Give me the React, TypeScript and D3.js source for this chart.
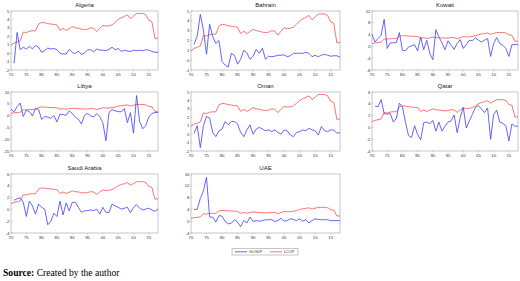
import React from 'react';
import * as d3 from 'd3';

// years 1970..2018
const years = d3.range(1970, 2019);

// red series (same in every panel)
const cop = [0.95, 1.2, 1.3, 1.45, 2.5, 2.45, 2.6, 2.65, 2.65, 3.45, 3.65, 3.6, 3.5, 3.45, 3.4, 3.35, 2.7, 2.95, 2.7, 2.9,
  3.15, 3.0, 2.95, 2.85, 2.8, 2.85, 3.0, 2.95, 2.55, 2.95, 3.3, 3.2, 3.25, 3.35, 3.65, 4.0, 4.2, 4.35, 4.55, 4.1,
  4.4, 4.7, 4.7, 4.7, 4.55, 3.9, 3.75, 1.75, 1.8];

const algeria = [null, -1.2, 2.45, 0.4, 0.7, 0.5, 0.8, 0.5, 0.9, 0.7, 0.1, 0.3, 0.6, 0.5, 0.55, 0.4, 0.0, -0.1, -0.1, 0.45,
  0.1, -0.05, 0.25, -0.15, 0.0, 0.4, 0.4, 0.15, 0.5, 0.35, 0.35, 0.3, 0.45, 0.7, 0.4, 0.55, 0.2, 0.35, 0.25, 0.2,
  0.35, 0.3, 0.35, 0.3, 0.4, 0.35, 0.2, 0.1, 0.1];
const bahrain = [null, 1.6, 2.45, 4.65, 3.05, 0.6, 3.65, 2.4, 1.7, 2.0, -0.15, -0.5, -0.7, 0.7, 0.5, -0.4, 0.1, 1.0, 0.75, 0.1,
  0.4, 1.1, 0.7, 1.2, 0.1, 0.4, 0.35, 0.4, 0.5, 0.5, 0.55, 0.35, 0.45, 0.7, 0.7, 0.7, 0.7, 0.8, 0.7, 0.35,
  0.5, 0.35, 0.5, 0.6, 0.5, 0.4, 0.45, 0.45, 0.3];
const kuwait = [4.0, 1.5, 2.7, 3.8, 9.2, -0.7, 1.2, 1.2, 1.3, 4.7, -1.3, -1.5, -0.2, 0.2, 0.6, -1.5, 3.2, -1.1, 2.1, -2.4,
  -4.5, 5.7, 3.2, 1.2, -1.1, 1.9, 0.4, -1.0, 1.0, 2.3, -0.7, 0.6, 2.1, 1.9, 2.9, 2.1, 1.5, 2.1, 2.7, -3.4,
  1.0, 3.0, 1.0, 0.4, -0.7, -3.4, 0.6, 0.6, 0.6];
const libya = [2.7, 1.6, 3.8, 5.3, -0.4, 2.3, 1.7, -0.1, 3.0, 2.7, -1.6, -0.4, -0.6, -1.2, 0.1, -2.7, 0.6, 0.4, 0.1, 2.0,
  0.9, -0.6, -1.6, -3.5, 0.1, 0.9, -0.1, -0.6, 0.9, -0.5, -3.0, -10.7, 1.3, 2.5, 2.0, 1.7, 1.6, 3.0, -3.0, 1.3,
  -7.4, 8.5, -2.5, -5.6, -4.2, -0.6, 0.9, 1.3, 1.3];
const oman = [null, 0.1, 1.0, -1.6, 1.0, 2.1, 1.9, 0.2, -0.3, 0.4, 0.6, 1.5, 1.1, 1.5, 1.5, 1.2, 0.2, -0.3, 0.5, 1.1,
  0.0, 0.6, 0.8, 0.6, 0.4, 0.5, 0.3, 0.5, 0.2, 0.0, 0.5, 0.4, -0.1, -0.3, 0.2, 0.3, 0.5, 0.4, 0.7, 0.5,
  0.4, -0.1, 0.9, 0.4, 0.3, 0.5, 0.5, 0.1, 0.2];
const qatar = [null, 3.6, 3.5, 4.7, 2.35, 2.25, 2.35, 0.9, 1.5, 4.1, 3.5, 0.9, -1.4, -1.7, 0.3, -1.2, -2.1, 0.8, 0.9, 0.6,
  1.2, -0.65, 0.9, -0.65, 0.2, 0.9, 1.1, 2.1, -0.9, 1.7, 3.4, -0.1, 1.1, 2.2, 3.4, 3.7, 3.1, 2.5, 3.3, -2.0,
  2.2, 2.9, 0.9, 0.7, 0.3, -2.3, 0.6, 0.2, 0.2];
const saudi = [null, 1.55, 1.8, 1.95, 1.2, -1.2, 1.4, 0.6, -0.8, 0.9, 0.35, 0.05, -2.6, -2.0, -0.65, -1.2, 1.4, -0.95, 1.1, -0.25,
  1.2, 1.2, 0.35, -0.5, -0.25, -0.2, -0.1, -0.2, 0.05, -0.8, 0.35, -0.5, -0.5, 0.9, 0.6, 0.35, 0.05, 0.2, 0.35, -0.55,
  0.35, 0.8, 0.2, -0.1, 0.05, 0.2, -0.1, -0.35, 0.05];
const uae = [null, 4.0, 4.0, 7.7, 10.3, 14.9, 1.4, 1.4, -0.3, 1.9, 1.7, 0, -0.9, -0.7, 0.5, -0.3, -1.8, 0.2, -0.6, 1.4,
  -0.1, 0.2, 0, 0.2, 0.5, 0.5, 0.5, -0.1, 0.2, 1.0, 0, 0.2, 0.8, 0.6, 0.2, 0.8, 0, 0.5, -0.6, 0.2,
  0.8, 0.6, 0.5, 0.5, 0.5, 0.2, 0.2, 0.2, 0.2];

const xTicks = [1970, 1975, 1980, 1985, 1990, 1995, 2000, 2005, 2010, 2015];
const seriesNames = ['GLGDP', 'LCOP'];

const panels = [
  { name: 'Algeria', values: algeria, yTicks: [-2, -1, 0, 1, 2, 3, 4, 5] },
  { name: 'Bahrain', values: bahrain, yTicks: [-1, 0, 1, 2, 3, 4, 5] },
  { name: 'Kuwait', values: kuwait, yTicks: [-8, -4, 0, 4, 8, 12] },
  { name: 'Libya', values: libya, yTicks: [-15, -10, -5, 0, 5, 10] },
  { name: 'Oman', values: oman, yTicks: [-2, -1, 0, 1, 2, 3, 4, 5] },
  { name: 'Qatar', values: qatar, yTicks: [-4, -2, 0, 2, 4, 6] },
  { name: 'Saudi Arabia', values: saudi, yTicks: [-4, -2, 0, 2, 4, 6] },
  { name: 'UAE', values: uae, yTicks: [-4, 0, 4, 8, 12, 16] },
];

const cols = [[11, 158], [191, 340], [372, 518]];
const rows = [[11, 70], [92, 151], [174, 233]];
const blue = '#4a4aff';
const red = '#ff5a5a';
const sans = 'Liberation Sans, Arial, sans-serif';

function Panel({ p, i }) {
  const [x0, x1] = cols[i % 3];
  const [y0, y1] = rows[Math.floor(i / 3)];
  const x = d3.scaleLinear().domain([1970, 2018]).range([x0, x1]);
  const y = d3.scaleLinear().domain(d3.extent(p.yTicks)).range([y1, y0]);
  const line = d3.line<number | null>()
    .defined(d => d != null)
    .x((d, j) => x(years[j]))
    .y(d => y(d as number));
  return (
    <g>
      <text x={(x0 + x1) / 2} y={y0 - 4.5} fontSize={6} fontFamily={sans} textAnchor="middle" fill="#222">{p.name}</text>
      <rect x={x0} y={y0} width={x1 - x0} height={y1 - y0} fill="none" stroke="#a0a0a0" strokeWidth={0.6} />
      {p.yTicks.map(t => (
        <g key={t}>
          <line x1={x0} x2={x0 + 1.5} y1={y(t)} y2={y(t)} stroke="#a0a0a0" strokeWidth={0.5} />
          <text x={x0 - 1.5} y={y(t) + 1.5} fontSize={4.3} fontFamily={sans} textAnchor="end" fill="#333">{t}</text>
        </g>
      ))}
      {xTicks.map(t => (
        <g key={t}>
          <line x1={x(t)} x2={x(t)} y1={y1} y2={y1 + 1.5} stroke="#a0a0a0" strokeWidth={0.5} />
          <text x={x(t)} y={y1 + 5.5} fontSize={4.3} fontFamily={sans} textAnchor="middle" fill="#333">{String(t).slice(2)}</text>
        </g>
      ))}
      <path d={line(cop) as string} fill="none" stroke={red} strokeWidth={0.85} />
      <path d={line(p.values) as string} fill="none" stroke={blue} strokeWidth={0.85} />
    </g>
  );
}

export default function App() {
  return (
    <svg width={520} height={281} style={{ position: 'absolute', left: 0, top: 0, background: '#fff' }}>
      {panels.map((p, i) => <Panel key={p.name} p={p} i={i} />)}
      <g>
        <rect x={232} y={248.5} width={66} height={6.5} fill="#fff" stroke="#a0a0a0" strokeWidth={0.6} />
        <line x1={235} x2={247} y1={251.8} y2={251.8} stroke={blue} strokeWidth={0.85} />
        <text x={249} y={253.2} fontSize={3.8} fontFamily={sans} fill="#333">{seriesNames[0]}</text>
        <line x1={270} x2={282} y1={251.8} y2={251.8} stroke={red} strokeWidth={0.85} />
        <text x={284} y={253.2} fontSize={3.8} fontFamily={sans} fill="#333">{seriesNames[1]}</text>
      </g>
      <text x={3} y={276} fontSize={9.6} fontFamily="Liberation Serif, Times New Roman, serif" fill="#000">
        <tspan fontWeight="bold">Source:</tspan> Created by the author
      </text>
    </svg>
  );
}
